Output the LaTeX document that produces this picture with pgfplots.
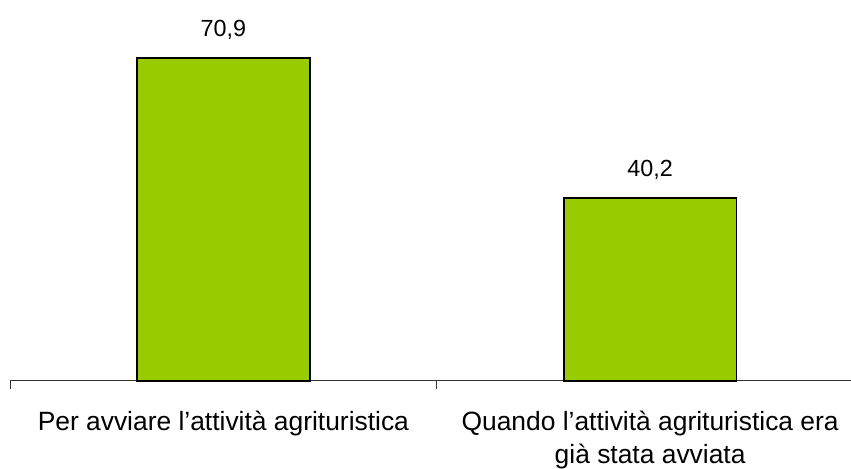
\documentclass[border=0pt]{standalone}
\usepackage{fontspec}
\setmainfont{Liberation Sans}
\usepackage{pgfplots}
\pgfplotsset{compat=1.18}
\definecolor{barg}{HTML}{99CC00}
\begin{document}
\begin{tikzpicture}
\begin{axis}[
  name=ax,
  scale only axis,
  width=630.75pt, height=285.75pt,
  xmin=-0.5, xmax=1.4707,
  ymin=0, ymax=83.63,
  axis x line*=bottom,
  axis y line=none,
  x axis line style={-, line width=0.75pt, color=black!80},
  xtick={0,1},
  xticklabels={Per avviare l’attività agrituristica, {Quando l’attività agrituristica era\\già stata avviata}},
  minor xtick={-0.5,0.5},
  major tick length=0pt,
  minor tick length=6pt,
  tick align=outside,
  minor tick style={line width=0.75pt, color=black!80},
  xticklabel style={font=\fontsize{19.8pt}{25pt}\selectfont, align=center, anchor=north, yshift=-19pt},
  ybar,
  bar width=0.405,
  nodes near coords,
  every node near coord/.append style={font=\fontsize{17.5pt}{20pt}\selectfont, anchor=south, yshift=10pt},
  /pgf/number format/.cd, use comma, fixed, fixed zerofill, precision=1, assume math mode=true,
  /pgfplots/.cd,
  clip=false,
]
\addplot[fill=barg, draw=black, line width=1.3pt] coordinates {(0,70.9) (1,40.2)};
\end{axis}
\pgfresetboundingbox
\path[use as bounding box] ([xshift=-7.5pt,yshift=-66pt]ax.south west) rectangle (ax.north east);
\end{tikzpicture}
\end{document}
